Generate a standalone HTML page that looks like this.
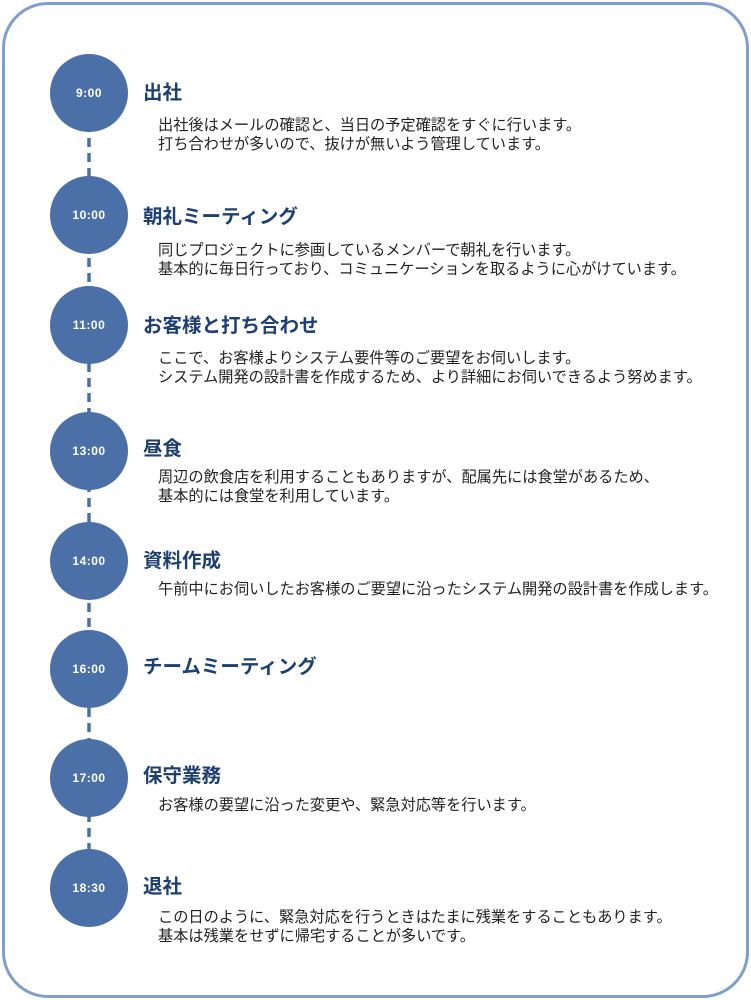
<!DOCTYPE html>
<html><head><meta charset="utf-8"><style>
html,body{margin:0;padding:0;background:#fff;}
body{width:751px;height:1000px;position:relative;overflow:hidden;font-family:"Liberation Sans","Noto Sans CJK JP",sans-serif;}
.frame{position:absolute;left:2px;top:2px;width:741px;height:990px;border:3px solid #7f9fcb;border-radius:46px;}
.c{position:absolute;left:50px;width:78px;height:78px;border-radius:50%;background:#4b70a8;color:#fff;font-size:12px;font-weight:bold;text-align:center;line-height:78px;letter-spacing:0.5px;}
.t{position:absolute;left:143px;font-size:19.5px;font-weight:bold;color:#1d3f72;line-height:24px;white-space:nowrap;}
.b{position:absolute;left:158px;font-size:15.2px;color:#222;line-height:19px;white-space:nowrap;}
svg{position:absolute;left:0;top:0;}
</style></head><body>
<div class="frame"></div>
<svg width="751" height="1000"><line x1="89" y1="93" x2="89" y2="888" stroke="#4b70a8" stroke-width="3.5" stroke-dasharray="9,6"/></svg>
<div class="c" style="top:54px">9:00</div>
<div class="c" style="top:176px">10:00</div>
<div class="c" style="top:286px">11:00</div>
<div class="c" style="top:412px">13:00</div>
<div class="c" style="top:522px">14:00</div>
<div class="c" style="top:630px">16:00</div>
<div class="c" style="top:739px">17:00</div>
<div class="c" style="top:849px">18:30</div>

<div class="t" style="top:81px">出社</div>
<div class="b" style="top:116px">出社後はメールの確認と、当日の予定確認をすぐに行います。<br>打ち合わせが多いので、抜けが無いよう管理しています。</div>

<div class="t" style="top:205px">朝礼ミーティング</div>
<div class="b" style="top:241px">同じプロジェクトに参画しているメンバーで朝礼を行います。<br>基本的に毎日行っており、コミュニケーションを取るように心がけています。</div>

<div class="t" style="top:314px">お客様と打ち合わせ</div>
<div class="b" style="top:349px">ここで、お客様よりシステム要件等のご要望をお伺いします。<br>システム開発の設計書を作成するため、より詳細にお伺いできるよう努めます。</div>

<div class="t" style="top:437px">昼食</div>
<div class="b" style="top:468px">周辺の飲食店を利用することもありますが、配属先には食堂があるため、<br>基本的には食堂を利用しています。</div>

<div class="t" style="top:549px">資料作成</div>
<div class="b" style="top:580px">午前中にお伺いしたお客様のご要望に沿ったシステム開発の設計書を作成します。</div>

<div class="t" style="top:655px">チームミーティング</div>

<div class="t" style="top:764px">保守業務</div>
<div class="b" style="top:796px">お客様の要望に沿った変更や、緊急対応等を行います。</div>

<div class="t" style="top:875px">退社</div>
<div class="b" style="top:908px">この日のように、緊急対応を行うときはたまに残業をすることもあります。<br>基本は残業をせずに帰宅することが多いです。</div>
</body></html>
